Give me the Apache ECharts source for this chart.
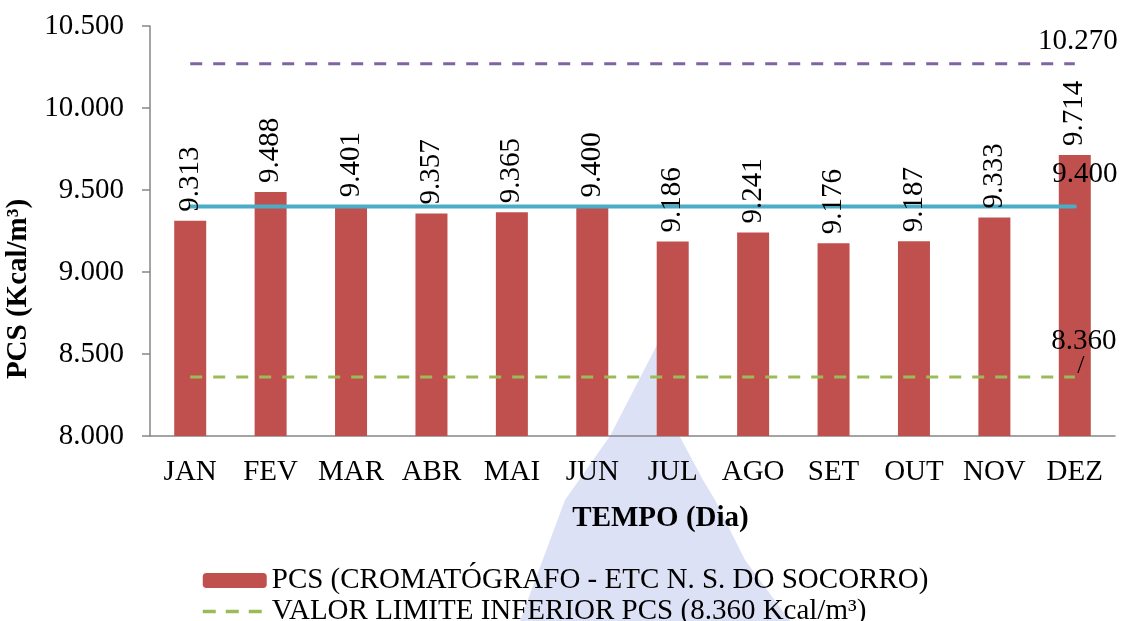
<!DOCTYPE html>
<html><head><meta charset="utf-8">
<script src="https://cdn.jsdelivr.net/npm/echarts@6/dist/echarts.min.js"></script>
<style>html,body{margin:0;padding:0;background:#fff}#c{width:1122px;height:621px}</style>
</head><body><div id="c"></div>
<script>
const categories = ['JAN','FEV','MAR','ABR','MAI','JUN','JUL','AGO','SET','OUT','NOV','DEZ'];
const pcsValues = [9.313, 9.488, 9.401, 9.357, 9.365, 9.400, 9.186, 9.241, 9.176, 9.187, 9.333, 9.714];
const limiteInferior = [8.360, 8.360, 8.360, 8.360, 8.360, 8.360, 8.360, 8.360, 8.360, 8.360, 8.360, 8.360];
const limiteSuperior = [10.270, 10.270, 10.270, 10.270, 10.270, 10.270, 10.270, 10.270, 10.270, 10.270, 10.270, 10.270];
const pcsReferencia = [9.400, 9.400, 9.400, 9.400, 9.400, 9.400, 9.400, 9.400, 9.400, 9.400, 9.400, 9.400];
const yTicks = {min: 8.0, max: 10.5, interval: 0.5};
const names = {
  bar: 'PCS (CROMATÓGRAFO - ETC N. S. DO SOCORRO)',
  inf: 'VALOR LIMITE INFERIOR PCS (8.360 Kcal/m³)',
  sup: 'VALOR LIMITE SUPERIOR PCS (10.270 Kcal/m³)',
  ref: 'PCS DE REFERÊNCIA (9.400 Kcal/m³)'
};

const FONT = 'Liberation Serif';
const FS = 29;
const fmt = v => Number(v).toFixed(3);
const last = arr => [[categories[categories.length - 1], arr[arr.length - 1]]];

function endLabelSeries(arr, label) {
  return {
    type: 'scatter', data: last(arr), symbolSize: 0, z: 6, silent: true,
    itemStyle: {opacity: 1},
    label: Object.assign({show: true, fontFamily: FONT, fontSize: FS, color: '#000', opacity: 1, formatter: p => fmt(p.value[1])}, label)
  };
}

const chart = echarts.init(document.getElementById('c'));
chart.setOption({
  animation: false,
  backgroundColor: '#fff',
  textStyle: {fontFamily: FONT},
  grid: {left: 150, right: 7, top: 26, bottom: 185, outerBoundsMode: 'none', containLabel: false},
  graphic: [{
    type: 'polygon', z: 0, silent: true,
    shape: {points: [[657,345],[680,437],[703,480],[715,500],[745,560],[790,621],[520,621],[565,500],[610,436]]},
    style: {fill: '#dde1f5'}
  }],
  legend: {
    orient: 'vertical', left: 196, top: 561, height: 120, itemWidth: 64, itemHeight: 15, itemGap: 2,
    data: [names.bar, {name: names.inf, itemStyle: {opacity: 0}, lineStyle: {width: 3.5, type: [13, 10]}}],
    textStyle: {fontFamily: FONT, fontSize: FS, color: '#000'}
  },
  xAxis: {
    type: 'category', data: categories,
    axisLine: {lineStyle: {color: '#868686', width: 1.5}},
    axisTick: {length: 6, lineStyle: {color: '#868686', width: 1.5}},
    axisLabel: {fontFamily: FONT, fontSize: FS, color: '#000', margin: 22, interval: 0},
    name: 'TEMPO (Dia)', nameLocation: 'middle', nameGap: 68,
    nameTextStyle: {fontFamily: FONT, fontSize: FS, fontWeight: 'bold', color: '#000', padding: [0, 0, 0, 56]}
  },
  yAxis: {
    type: 'value', min: yTicks.min, max: yTicks.max, interval: yTicks.interval,
    splitLine: {show: false},
    axisLine: {show: true, lineStyle: {color: '#868686', width: 1.5}},
    axisTick: {show: true, length: 8, lineStyle: {color: '#868686', width: 1.5}},
    axisLabel: {fontFamily: FONT, fontSize: FS, color: '#000', margin: 26, formatter: fmt},
    name: 'PCS (Kcal/m³)', nameLocation: 'middle', nameGap: 108,
    nameTextStyle: {fontFamily: FONT, fontSize: FS, fontWeight: 'bold', color: '#000', padding: [0, 116, 0, 0]}
  },
  series: [
    {
      name: names.bar, type: 'bar', data: pcsValues, barWidth: 32, z: 2,
      itemStyle: {color: '#c0504d'}
    },
    {
      type: 'bar', data: pcsValues, barWidth: 32, barGap: '-100%', z: 6, silent: true,
      itemStyle: {color: 'rgba(0,0,0,0)'},
      label: {show: true, position: 'top', rotate: 90, align: 'left', verticalAlign: 'middle', distance: 9,
        fontFamily: FONT, fontSize: FS, color: '#000', formatter: p => fmt(p.value)}
    },
    {
      name: names.inf, type: 'line', symbol: 'none', showSymbol: false, z: 3, data: limiteInferior,
      lineStyle: {color: '#9bbb59', width: 3, type: [12, 11]},
      itemStyle: {color: '#9bbb59'}
    },
    {
      name: names.sup, type: 'line', symbol: 'none', showSymbol: false, z: 3, data: limiteSuperior,
      lineStyle: {color: '#8064a2', width: 3, type: [12, 11]},
      itemStyle: {color: '#8064a2'}
    },
    {
      name: names.ref, type: 'line', symbol: 'none', showSymbol: false, z: 3, data: pcsReferencia,
      lineStyle: {color: '#4bacc6', width: 4, cap: 'round'},
      itemStyle: {color: '#4bacc6'}
    },
    endLabelSeries(limiteInferior, {position: 'top', distance: 1,
      formatter: p => '{a|' + fmt(p.value[1]) + '}\n{b|/}',
      rich: {a: {fontFamily: FONT, fontSize: FS, color: '#000', align: 'center', padding: [0, 0, 0, 18]},
             b: {fontFamily: FONT, fontSize: 26, lineHeight: 20, color: '#000', align: 'center', padding: [0, 0, 0, 12]}}}),
    endLabelSeries(limiteSuperior, {position: 'top', distance: 8, offset: [3, 0]}),
    endLabelSeries(pcsReferencia, {position: 'top', distance: 18, offset: [10, 0]})
  ]
});
</script>
</body></html>
